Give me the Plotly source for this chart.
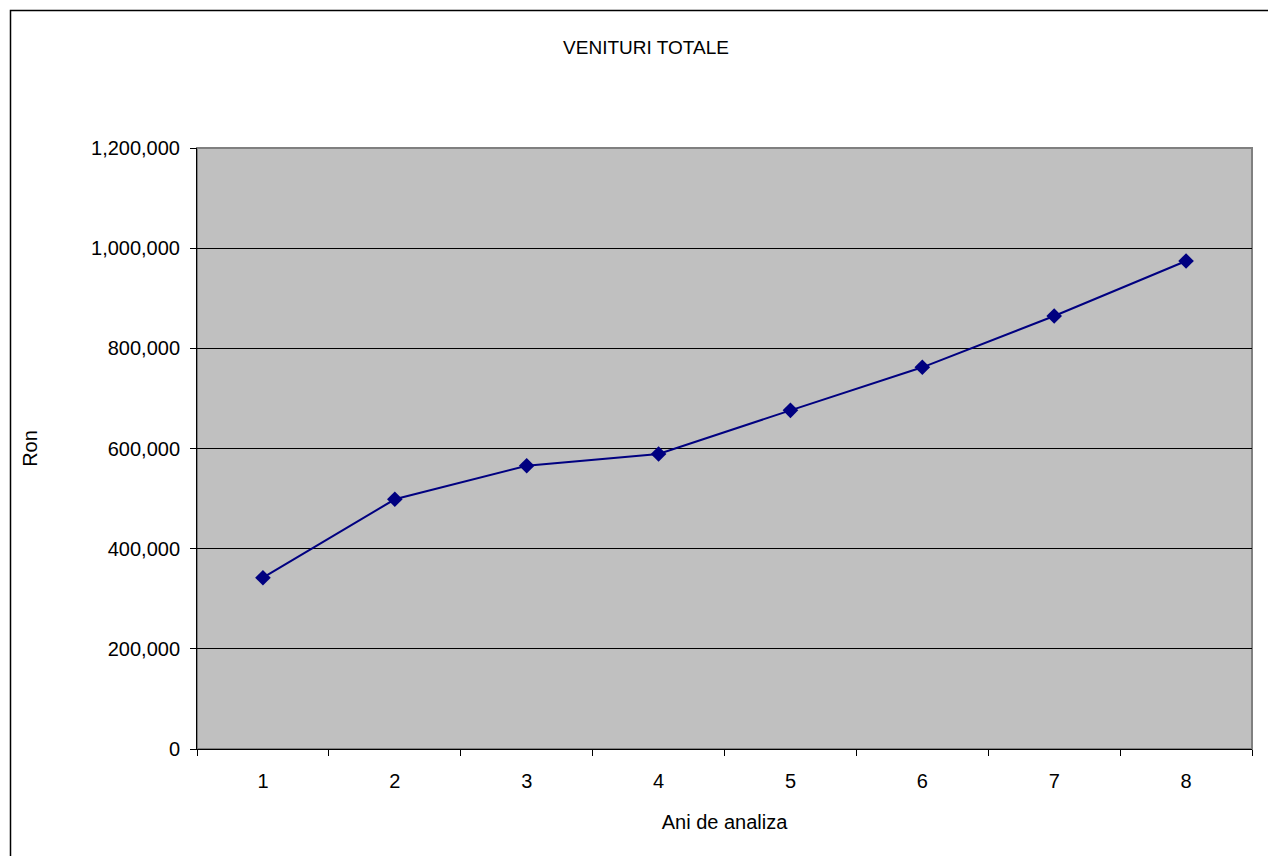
import plotly.graph_objects as go

# Annual total revenue (RON) over the analysis period
years = ["1", "2", "3", "4", "5", "6", "7", "8"]
revenue = [342000, 498600, 565600, 589000, 676200, 762100, 864500, 974300]

y_ticks = [0, 200000, 400000, 600000, 800000, 1000000, 1200000]
y_tick_text = ["0", "200,000", "400,000", "600,000", "800,000", "1,000,000", "1,200,000"]

FONT = "Liberation Sans, Arial, sans-serif"

fig = go.Figure()
fig.add_trace(go.Scatter(
    x=years,
    y=revenue,
    mode="lines+markers",
    line=dict(color="#000080", width=2),
    marker=dict(symbol="diamond", size=12, color="#000080"),
    showlegend=False,
    hoverinfo="skip",
))

fig.update_layout(
    width=1268,
    height=856,
    margin=dict(l=197, r=16, t=148, b=107),
    paper_bgcolor="white",
    plot_bgcolor="#C0C0C0",
    font=dict(family=FONT, size=20, color="black"),
    title=dict(
        text="VENITURI TOTALE",
        x=646 / 1268,
        xanchor="center",
        y=1 - 47 / 856,
        yanchor="middle",
        font=dict(family=FONT, size=19, color="black"),
    ),
    xaxis=dict(
        type="category",
        tickson="boundaries",
        ticks="outside",
        ticklen=6,
        tickcolor="black",
        showline=True,
        linecolor="black",
        linewidth=1,
        showgrid=False,
        range=[-0.5, 7.5],
        tickfont=dict(size=20),
        ticklabelstandoff=14,
        title=dict(text="Ani de analiza", font=dict(size=20), standoff=23),
    ),
    yaxis=dict(
        range=[0, 1200000],
        tickvals=y_ticks,
        ticktext=y_tick_text,
        ticks="outside",
        ticklen=6,
        tickcolor="black",
        showline=True,
        linecolor="black",
        linewidth=1,
        showgrid=True,
        gridcolor="black",
        gridwidth=1,
        zeroline=False,
        tickfont=dict(size=20),
        ticklabelstandoff=6,
        title=dict(text="Ron", font=dict(size=20), standoff=48),
    ),
    shapes=[
        # plot-area frame (grey right and top edges)
        dict(type="rect", xref="paper", yref="paper", x0=0, x1=1, y0=0, y1=1,
             line=dict(color="#808080", width=2), fillcolor="rgba(0,0,0,0)", layer="below"),
        # chart-area border
        dict(type="rect", xref="paper", yref="paper",
             x0=(10.5 - 197) / 1055, x1=(1275 - 197) / 1055,
             y0=(749 - 865) / 601, y1=(749 - 10.5) / 601,
             line=dict(color="black", width=1.5), fillcolor="rgba(0,0,0,0)", layer="above"),
    ],
)

fig.write_html("out.html")
